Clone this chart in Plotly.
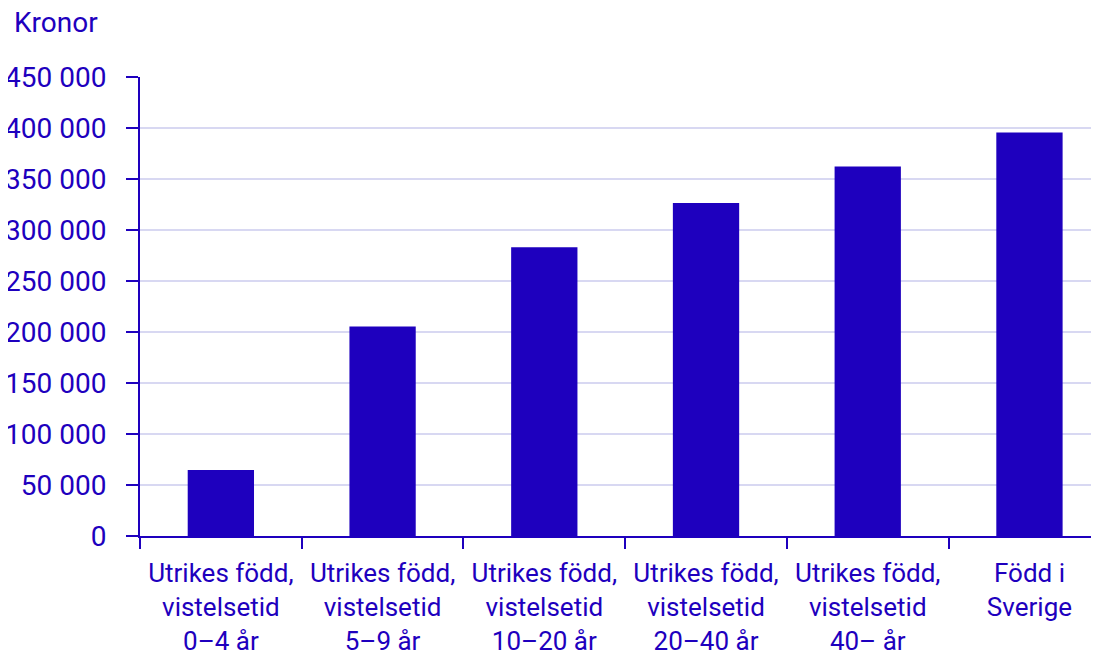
import plotly.graph_objects as go

categories = [
    "Utrikes född,<br>vistelsetid<br>0–4 år",
    "Utrikes född,<br>vistelsetid<br>5–9 år",
    "Utrikes född,<br>vistelsetid<br>10–20 år",
    "Utrikes född,<br>vistelsetid<br>20–40 år",
    "Utrikes född,<br>vistelsetid<br>40– år",
    "Född i<br>Sverige",
]
values = [64700, 205300, 283200, 326400, 362300, 395700]
y_ticks = [0, 50000, 100000, 150000, 200000, 250000, 300000, 350000, 400000, 450000]

BLUE = "#1E00BE"
FONT = "Roboto"

fig = go.Figure(
    go.Bar(
        x=categories,
        y=values,
        marker=dict(color=BLUE, line=dict(width=0)),
        width=0.41,
    )
)

fig.update_layout(
    width=1099,
    height=652,
    margin=dict(l=132, r=8, t=69, b=124, autoexpand=False),
    plot_bgcolor="white",
    paper_bgcolor="white",
    separators=", ",
    showlegend=False,
    font=dict(family=FONT, size=26, color=BLUE),
)

fig.update_xaxes(
    type="category",
    range=[-0.5, 5.43],
    automargin=False,
    tickson="boundaries",
    ticks="outside",
    ticklen=11,
    tickwidth=2,
    tickcolor=BLUE,
    ticklabelstandoff=13,
    showline=True,
    linecolor=BLUE,
    linewidth=2,
    showgrid=False,
    zeroline=False,
    tickfont=dict(family=FONT, size=26, color=BLUE),
)

fig.update_yaxes(
    range=[0, 450000],
    automargin=False,
    tickmode="array",
    tickvals=y_ticks,
    tickformat=",d",
    ticks="outside",
    ticklen=12,
    tickwidth=2,
    tickcolor=BLUE,
    ticklabelstandoff=14,
    showline=True,
    linecolor=BLUE,
    linewidth=2,
    showgrid=True,
    gridcolor="#D8D8F2",
    gridwidth=2,
    zeroline=False,
    tickfont=dict(family=FONT, size=28, color=BLUE),
)

fig.add_annotation(
    text="Kronor",
    xref="paper",
    yref="paper",
    x=(12 - 140) / 959,
    y=1 + (77 - 23) / 459,
    xanchor="left",
    yanchor="middle",
    showarrow=False,
    font=dict(family=FONT, size=28, color=BLUE),
)

fig.write_html("out.html")
